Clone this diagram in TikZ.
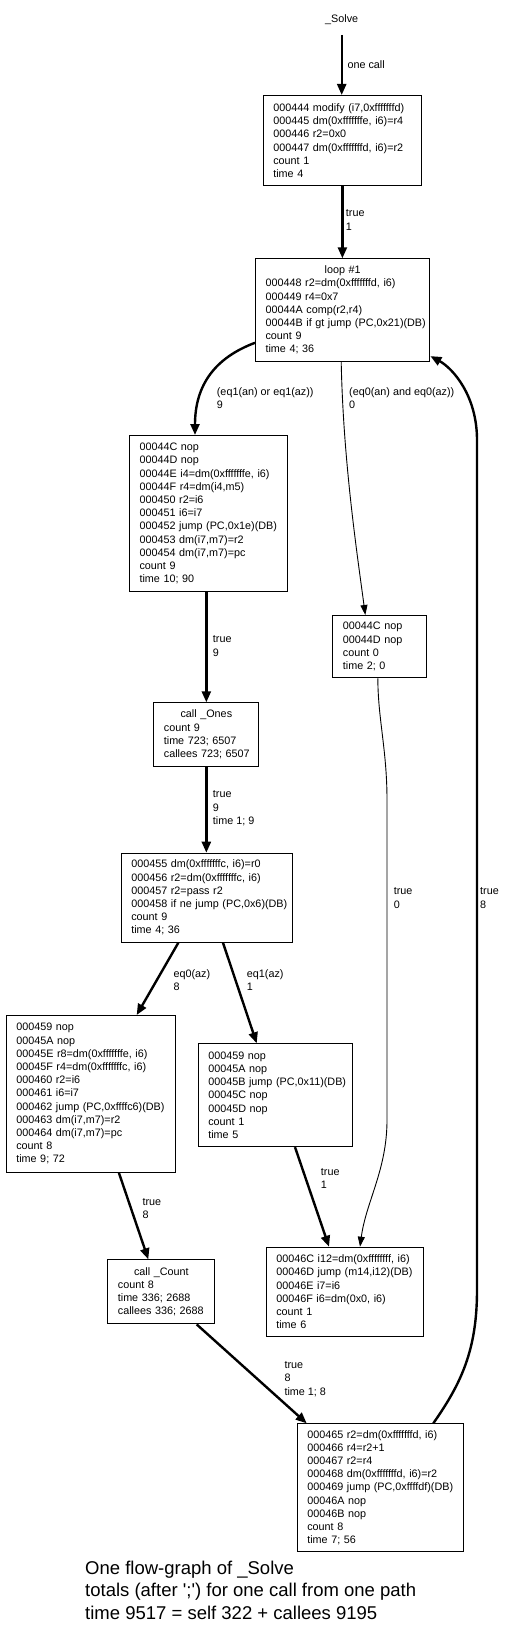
\documentclass[tikz,border=0pt]{standalone}
\usepackage{fontspec}
\usepackage{tikz}
\usetikzlibrary{arrows.meta}
\newfontfamily\gvfont{Liberation Sans}
\newcommand{\gvsmall}{\gvfont\fontsize{10.8}{13.2}\selectfont}
\newcommand{\gvbig}{\gvfont\fontsize{18.5}{22.6}\selectfont}
\newcommand{\gvtitle}[1]{\makebox[\dimexpr\hsize-20pt\relax][c]{#1}}
\tikzset{
  blk/.style 2 args={draw, line width=1.1pt, anchor=north west, align=left,
              inner xsep=0pt, inner ysep=0pt, font=\gvsmall,
              text width=#1, minimum height=#2,
              execute at begin node={\leftskip=10pt}},
  edgeLbl/.style={font=\gvsmall, align=left, anchor=west, inner sep=0pt},
  flow/.style={line width=2.4pt, -{Triangle[length=11pt, width=9pt]}},
  flowThin/.style={line width=0.9pt, -{Triangle[length=10pt, width=7pt]}},
}

\begin{document}
\begin{tikzpicture}[x=1pt, y=-1pt]
\path[use as bounding box, fill=white] (0,0) rectangle (504,1632);

% ========== ENTRY ==========
\node[font=\gvsmall, minimum height=31pt, inner sep=0pt] (solve) at (341.7,19.3) {\_Solve};
\node[blk={158.3pt}{90pt}] (entry) at (262.7,95)
  {000444 modify (i7,0xfffffffd)\\000445 dm(0xfffffffe, i6)=r4\\000446 r2=0x0\\
   000447 dm(0xfffffffd, i6)=r2\\count 1\\time 4};

% ========== LOOP HEAD ==========
\node[blk={174.3pt}{102.4pt}] (loop) at (255,258.3)
  {\gvtitle{loop \#1}\\000448 r2=dm(0xfffffffd, i6)\\000449 r4=0x7\\
   00044A comp(r2,r4)\\00044B if gt jump (PC,0x21)(DB)\\count 9\\time 4; 36};

% ========== LOOP BODY ==========
\node[blk={158pt}{156pt}] (body) at (129,435)
  {00044C nop\\00044D nop\\00044E i4=dm(0xfffffffe, i6)\\00044F r4=dm(i4,m5)\\000450 r2=i6\\
   000451 i6=i7\\000452 jump (PC,0x1e)(DB)\\000453 dm(i7,m7)=r2\\000454 dm(i7,m7)=pc\\
   count 9\\time 10; 90};
\node[blk={94pt}{62.3pt}] (skip) at (332.3,615)
  {00044C nop\\00044D nop\\count 0\\time 2; 0};
\node[blk={105pt}{63.4pt}] (ones) at (153.3,702.3)
  {\gvtitle{call \_Ones}\\count 9\\time 723; 6507\\callees 723; 6507};
\node[blk={171pt}{89pt}] (test) at (120.7,852.7)
  {000455 dm(0xfffffffc, i6)=r0\\000456 r2=dm(0xfffffffc, i6)\\000457 r2=pass r2\\
   000458 if ne jump (PC,0x6)(DB)\\count 9\\time 4; 36};
\node[blk={169.3pt}{156.7pt}] (zero) at (5.7,1015)
  {000459 nop\\00045A nop\\00045E r8=dm(0xfffffffe, i6)\\00045F r4=dm(0xfffffffc, i6)\\
   000460 r2=i6\\000461 i6=i7\\000462 jump (PC,0xffffc6)(DB)\\000463 dm(i7,m7)=r2\\
   000464 dm(i7,m7)=pc\\count 8\\time 9; 72};
\node[blk={154pt}{102.7pt}] (nonzero) at (197.7,1043.3)
  {000459 nop\\00045A nop\\00045B jump (PC,0x11)(DB)\\00045C nop\\00045D nop\\count 1\\time 5};
\node[blk={107pt}{64pt}] (count) at (107.3,1259.3)
  {\gvtitle{call \_Count}\\count 8\\time 336; 2688\\callees 336; 2688};
\node[blk={157.6pt}{89.3pt}] (exit) at (265.7,1246.7)
  {00046C i12=dm(0xffffffff, i6)\\00046D jump (m14,i12)(DB)\\00046E i7=i6\\
   00046F i6=dm(0x0, i6)\\count 1\\time 6};
\node[blk={166pt}{127.7pt}] (latch) at (296.7,1423.3)
  {000465 r2=dm(0xfffffffd, i6)\\000466 r4=r2+1\\000467 r2=r4\\000468 dm(0xfffffffd, i6)=r2\\
   000469 jump (PC,0xffffdf)(DB)\\00046A nop\\00046B nop\\count 8\\time 7; 56};

% ========== EDGES ==========
\draw[flow] (solve.south) -- (solve.south |- entry.north);
\node[edgeLbl] (lCall) at (347.3,64.3) {one call};

\draw[flow] (entry.south) -- (entry.south |- loop.north);
\node[edgeLbl] (lEntry) at (345.7,220) {true\\1};

\draw[flow] ([yshift=19pt]loop.south west) .. controls +(-40,15) and +(0,-50) .. ([xshift=66pt]body.north west);
\node[edgeLbl] (lBody) at (216.7,398.2) {(eq1(an) or eq1(az))\\9};

\draw[flowThin] ([xshift=-1.5pt]loop.south) .. controls +(2,100) and +(-8,-60) .. ([xshift=33pt]skip.north west);
\node[edgeLbl] (lSkip) at (349,398.2) {(eq0(an) and eq0(az))\\0};

\draw[flow] (ones.north |- body.south) -- (ones.north);
\node[edgeLbl] (lOnes) at (212.7,646) {true\\9};

\draw[flow] (ones.south) -- (ones.south |- test.north);
\node[edgeLbl] (lTest) at (212.7,808.3) {true\\9\\time 1; 9};

\draw[flow] ([xshift=57.6pt]test.south west) -- ([xshift=131pt]zero.north west);
\node[edgeLbl] (lZero) at (173.3,980) {eq0(az)\\8};

\draw[flow] ([xshift=102.3pt]test.south west) -- ([xshift=59pt]nonzero.north west);
\node[edgeLbl] (lNonzero) at (246.7,980) {eq1(az)\\1};

\draw[flow] ([xshift=113.2pt]zero.south west) -- ([xshift=41pt]count.north west);
\node[edgeLbl] (lCount) at (142.3,1208.7) {true\\8};

\draw[flow] ([xshift=97.3pt]nonzero.south west) -- ([xshift=63.3pt]exit.north west);
\node[edgeLbl] (lExit) at (320.7,1178.7) {true\\1};

\draw[flowThin] ([xshift=-2pt]skip.south) .. controls +(0,40) and +(0,-50) .. (387,800)
  -- (387,1120) .. controls +(0,50) and +(6,-45) .. ([xshift=94.3pt]exit.north west);
\node[edgeLbl] (lSkipExit) at (393.6,898) {true\\0};

\draw[flow] ([xshift=89.4pt]count.south west) -- ([xshift=10pt]latch.north west);
\node[edgeLbl] (lLatch) at (284.3,1379) {true\\8\\time 1; 8};

\draw[flow] ([xshift=136.6pt]latch.north west) .. controls +(28,-40) and +(0,60) .. (477,1290)
  -- (477,440) .. controls +(0,-45) and +(22,12) .. ([yshift=5.7pt]loop.south east);
\node[edgeLbl] (lBack) at (480,898) {true\\8};

% ========== CAPTION ==========
\node[font=\gvbig, align=left, anchor=west, inner sep=0pt] (caption) at (85,1590)
  {One flow-graph of \_Solve\\totals (after \textquotesingle;\textquotesingle) for one call from one path\\
   time 9517 = self 322 + callees 9195};

\end{tikzpicture}
\end{document}
